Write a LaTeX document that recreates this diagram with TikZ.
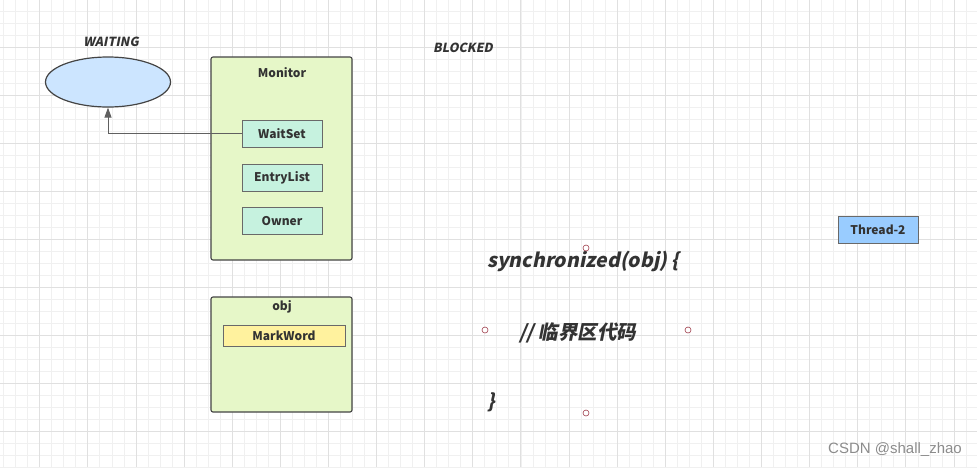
\documentclass[tikz,border=0pt]{standalone}
\usepackage{fontspec}
\setmainfont{Noto Sans}
\newfontfamily\cjk[FakeSlant=0.2]{Noto Sans CJK SC}
\newfontfamily\cjkup{Noto Sans CJK SC}
\newfontfamily\wmfont{Liberation Sans}
\usetikzlibrary{arrows.meta,shapes.geometric}
\definecolor{gridminor}{HTML}{F0F0F0}
\definecolor{gridmajor}{HTML}{E0E0E0}
\definecolor{mgreen}{HTML}{E6F7C8}
\definecolor{mint}{HTML}{C6F2DF}
\definecolor{ellblue}{HTML}{CCE5FF}
\definecolor{thblue}{HTML}{99CCFF}
\definecolor{mwyellow}{HTML}{FFF29E}
\definecolor{edge}{HTML}{444444}
\definecolor{txt}{HTML}{333333}
\definecolor{handlec}{HTML}{A0404E}
\tikzset{
  bigbox/.style={draw=edge, line width=1.1pt, rounded corners=2pt, fill=mgreen, inner sep=0pt},
  slot/.style={draw=edge!80, line width=0.9pt, fill=mint, inner sep=0pt, minimum width=80pt, minimum height=27pt, font=\cjkup\bfseries\fontsize{12}{14}\selectfont, text=txt},
  title/.style={font=\cjkup\bfseries\fontsize{12}{14}\selectfont, text=txt, inner sep=0pt},
  state/.style={font=\cjk\bfseries\fontsize{12.5}{14}\selectfont, text=txt, inner sep=0pt},
  code/.style={font=\cjk\bfseries\fontsize{19.5}{22}\selectfont, text=txt, inner sep=0pt, anchor=west},
  handle/.style={circle, draw=handlec, line width=0.6pt, fill=white, minimum size=6pt, inner sep=0pt},
  arr/.style={draw=edge!85, line width=1pt, -{Triangle[length=10pt,width=7pt]}},
}
\begin{document}
\begin{tikzpicture}[x=1pt,y=-1pt]
\useasboundingbox (0,0) rectangle (977,467);
\fill[white] (0,0) rectangle (977,467);
% grid
\foreach \i in {0,...,81} {
  \pgfmathsetmacro\gx{-8.4+12.03*\i}
  \draw[gridminor, line width=0.8pt] (\gx,0) -- (\gx,467);
}
\foreach \i in {0,...,39} {
  \pgfmathsetmacro\gy{-1+12*\i}
  \draw[gridminor, line width=0.8pt] (0,\gy) -- (977,\gy);
}
\foreach \i in {0,...,20} {
  \pgfmathsetmacro\gx{-8.4+48.12*\i}
  \draw[gridmajor, line width=0.9pt] (\gx,0) -- (\gx,467);
}
\foreach \i in {0,...,10} {
  \pgfmathsetmacro\gy{-1+48*\i}
  \draw[gridmajor, line width=0.9pt] (0,\gy) -- (977,\gy);
}

% WAITING state
\node[state] (waitlbl) at (111,42) {WAITING};
\node[ellipse, draw=edge, line width=1.2pt, fill=ellblue, minimum width=125pt, minimum height=50pt, inner sep=0pt] (ell) at (108,82) {};

% Monitor
\node[bigbox, minimum width=141pt, minimum height=203pt] (monitor) at (281.5,158.5) {};
\node[title] (montitle) at (282,73) {Monitor};
\node[slot] (waitset) at (282,133.5) {WaitSet};
\node[slot] (entry) at (282,177.5) {EntryList};
\node[slot] (owner) at (282,221) {Owner};

\draw[arr] (waitset.west) -| (ell.south);

% obj
\node[bigbox, minimum width=141pt, minimum height=115pt] (obj) at (281.5,354.5) {};
\node[title] (objtitle) at (282,307) {obj};
\node[slot, fill=mwyellow, minimum width=122pt, minimum height=21pt] (markword) at (284,335.5) {MarkWord};

% BLOCKED
\node[state] (blocked) at (463,48) {BLOCKED};

% Thread-2
\node[slot, fill=thblue, minimum width=80pt, minimum height=27pt] (thread) at (878,229.5) {Thread-2};

% code
\node[code] (c1) at (487,261) {synchronized(obj) \{};
\node[code] (c2) at (519,333) {// 临界区代码};
\node[code] (c3) at (487,402) {\}};

% selection handles
\node[handle] (h1) at (586,248) {};
\node[handle] (h2) at (485,330) {};
\node[handle] (h3) at (688,330) {};
\node[handle] (h4) at (586,413) {};

% watermark
\node[font=\wmfont\fontsize{15}{17}\selectfont, text=black!45, inner sep=0pt] (wm) at (895,450) {CSDN @shall\_zhao};
\end{tikzpicture}
\end{document}
